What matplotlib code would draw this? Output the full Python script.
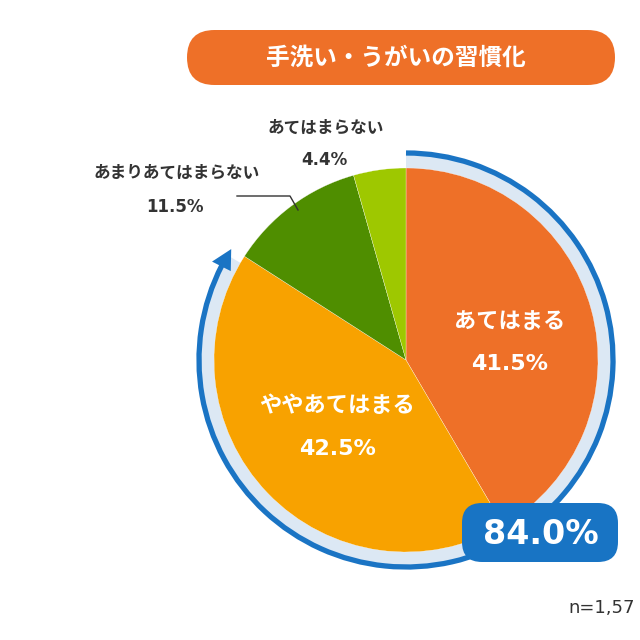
import matplotlib
matplotlib.use("Agg")
import matplotlib.pyplot as plt
from matplotlib.patches import Wedge, Arc, Polygon, FancyBboxPatch
import numpy as np

plt.rcParams['font.family'] = ['Noto Sans CJK JP', 'DejaVu Sans']

# ---- data ----
title = "手洗い・うがいの習慣化"
categories = ["あてはまる", "ややあてはまる", "あまりあてはまらない", "あてはまらない"]
values = [41.5, 42.5, 11.5, 4.4]
value_labels = ["41.5%", "42.5%", "11.5%", "4.4%"]
colors = ["#EE7028", "#F8A200", "#4F8E00", "#9EC800"]
total_label = "84.0%"
total_share = 84.0
n_label = "n=1,57"

W = H = 640
fig = plt.figure(figsize=(6.4, 6.4), dpi=100)
ax = fig.add_axes([0, 0, 1, 1])
ax.set_xlim(0, W)
ax.set_ylim(0, H)
ax.set_aspect('equal')
ax.axis('off')

def Y(y):
    return H - y

cx, cy = 406, Y(360)
R = 192
RB = 207  # blue ring radius

# light band under the ring
end_ang = 90 - 360 * total_share / 100.0
ax.add_patch(Wedge((cx, cy), RB - 1, end_ang + 2, 90, width=RB - R + 1,
                   facecolor="#DCE8F4", edgecolor="none", zorder=1))

# pie
ax.pie(values, colors=colors, startangle=90, counterclock=False,
       center=(cx, cy), radius=R, frame=True,
       wedgeprops=dict(edgecolor="white", linewidth=0.2))
ax.set_xlim(0, W)
ax.set_ylim(0, H)
ax.axis('off')

# blue ring with arrow head
head_deg = 5.5
ax.add_patch(Arc((cx, cy), 2 * RB, 2 * RB, theta1=end_ang + head_deg - 0.3, theta2=90,
                 color="#1A74C4", linewidth=3.8, capstyle='butt', zorder=5))
tip = np.deg2rad(end_ang)
base = np.deg2rad(end_ang + head_deg)
hw = 10.5
pts = [(cx + RB * np.cos(tip), cy + RB * np.sin(tip)),
       (cx + (RB + hw) * np.cos(base), cy + (RB + hw) * np.sin(base)),
       (cx + (RB - hw) * np.cos(base), cy + (RB - hw) * np.sin(base))]
ax.add_patch(Polygon(pts, closed=True, facecolor="#1A74C4", edgecolor="none", zorder=5))

# title pill
ax.add_patch(FancyBboxPatch((187, Y(85)), 428, 55,
                            boxstyle="round,pad=0,rounding_size=27.5",
                            facecolor="#EE7028", edgecolor="none", zorder=6))
ax.text(396, Y(58), title, color="white", fontsize=17, fontweight='bold',
        ha='center', va='center', zorder=7)

# inside labels
ax.text(510, Y(322), categories[0], color="white", fontsize=16, fontweight='bold',
        ha='center', va='center', zorder=7)
ax.text(510, Y(364), value_labels[0], color="white", fontsize=16, fontweight='bold',
        ha='center', va='center', zorder=7, family='DejaVu Sans')
ax.text(337, Y(406), categories[1], color="white", fontsize=16, fontweight='bold',
        ha='center', va='center', zorder=7)
ax.text(337, Y(449), value_labels[1], color="white", fontsize=16, fontweight='bold',
        ha='center', va='center', zorder=7, family='DejaVu Sans')

# outside labels
ax.text(177, Y(173), categories[2], color="#333333", fontsize=12, fontweight='bold',
        ha='center', va='center', zorder=7)
ax.text(175, Y(207), value_labels[2], color="#333333", fontsize=12, fontweight='bold',
        ha='center', va='center', zorder=7, family='DejaVu Sans')
ax.text(326, Y(128), categories[3], color="#333333", fontsize=12, fontweight='bold',
        ha='center', va='center', zorder=7)
ax.text(324, Y(160), value_labels[3], color="#333333", fontsize=12, fontweight='bold',
        ha='center', va='center', zorder=7, family='DejaVu Sans')

# leader line
ax.plot([237, 290, 298], [Y(196), Y(196), Y(210)], color="#333333", linewidth=1.0, zorder=7)

# total box
ax.add_patch(FancyBboxPatch((462, Y(562)), 156, 59,
                            boxstyle="round,pad=0,rounding_size=20",
                            facecolor="#1874C4", edgecolor="none", zorder=8))
ax.text(541, Y(534), total_label, color="white", fontsize=24, fontweight='bold',
        ha='center', va='center', zorder=9, family='DejaVu Sans')

# n label
ax.text(568, Y(608), n_label, color="#333333", fontsize=13, ha='left', va='center',
        family='DejaVu Sans', zorder=9)

fig.savefig("out.png", dpi=100, facecolor="white")
